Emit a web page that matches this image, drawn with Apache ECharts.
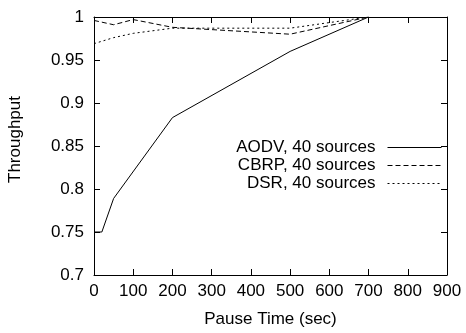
<!DOCTYPE html>
<html>
<head>
<meta charset="utf-8">
<script src="https://cdn.jsdelivr.net/npm/echarts@6/dist/echarts.min.js"></script>
<style>
html,body{margin:0;padding:0;background:#fff;}
#c{width:466px;height:333px;}
</style>
</head>
<body>
<div id="c"></div>
<script>
// Data
const seriesNames = ['AODV, 40 sources', 'CBRP, 40 sources', 'DSR, 40 sources'];
const aodvX = [0, 20, 50, 200, 500, 700];
const aodvY = [0.75, 0.75, 0.789, 0.883, 0.96, 1.0];
const cbrpX = [0, 50, 100, 200, 500, 700];
const cbrpY = [0.996, 0.991, 0.997, 0.988, 0.980, 1.0];
const dsrX = [0, 50, 100, 200, 500, 700];
const dsrY = [0.969, 0.976, 0.981, 0.987, 0.987, 1.0];
const xTicks = [0, 100, 200, 300, 400, 500, 600, 700, 800, 900];
const yTicks = [0.7, 0.75, 0.8, 0.85, 0.9, 0.95, 1];

const pairs = (xs, ys) => xs.map((x, i) => [x, ys[i]]);
const FONT = 'Liberation Sans';
const FS = 17;

const chart = echarts.init(document.getElementById('c'), null, {renderer: 'canvas'});
const baseX = {
  type: 'value', min: xTicks[0], max: xTicks[xTicks.length - 1], interval: 100,
  axisLine: {show: true, onZero: false, lineStyle: {color: '#000', width: 1}},
  axisTick: {show: true, inside: true, length: 6, lineStyle: {color: '#000'}},
  splitLine: {show: false}
};
const baseY = {
  type: 'value', min: yTicks[0], max: yTicks[yTicks.length - 1], interval: 0.05,
  axisLine: {show: true, onZero: false, lineStyle: {color: '#000', width: 1}},
  axisTick: {show: true, inside: true, length: 6, lineStyle: {color: '#000'}},
  splitLine: {show: false}
};
const lineSeries = (name, data, dash) => ({
  name, type: 'line', data, showSymbol: false, symbol: 'none', animation: false,
  lineStyle: {color: '#000', width: 1, type: dash},
  itemStyle: {color: '#000'}
});

chart.setOption({
  animation: false,
  textStyle: {fontFamily: FONT},
  grid: {left: 94, right: 19, top: 17, bottom: 58, outerBoundsMode: 'none', containLabel: false},
  xAxis: [
    Object.assign({}, baseX, {
      position: 'bottom',
      name: 'Pause Time (sec)', nameLocation: 'middle', nameGap: 36,
      nameTextStyle: {color: '#000', fontSize: FS, fontFamily: FONT},
      axisLabel: {color: '#000', fontSize: FS, fontFamily: FONT, margin: 8}
    }),
    Object.assign({}, baseX, {position: 'top', axisLabel: {show: false}})
  ],
  yAxis: [
    Object.assign({}, baseY, {
      position: 'left',
      name: 'Throughput', nameLocation: 'middle', nameGap: 70, nameRotate: 90,
      nameTextStyle: {color: '#000', fontSize: FS, fontFamily: FONT, padding: [0, 0, 0, 13]},
      axisLabel: {color: '#000', fontSize: FS, fontFamily: FONT, margin: 10,
        formatter: v => String(Math.round(v * 100) / 100)}
    }),
    Object.assign({}, baseY, {position: 'right', axisLabel: {show: false}})
  ],
  legend: {
    orient: 'vertical', right: 19, top: 134, align: 'right',
    itemWidth: 54, itemHeight: 10, itemGap: 1,
    itemStyle: {opacity: 0, borderWidth: 0},
    lineStyle: {width: 1, color: '#000'},
    textStyle: {color: '#000', fontSize: FS, fontFamily: FONT, padding: [0, 7, 0, 0]},
    data: seriesNames,
    selectedMode: false
  },
  series: [
    lineSeries(seriesNames[0], pairs(aodvX, aodvY), 'solid'),
    lineSeries(seriesNames[1], pairs(cbrpX, cbrpY), [5, 3]),
    lineSeries(seriesNames[2], pairs(dsrX, dsrY), [2, 3])
  ]
});
</script>
</body>
</html>
